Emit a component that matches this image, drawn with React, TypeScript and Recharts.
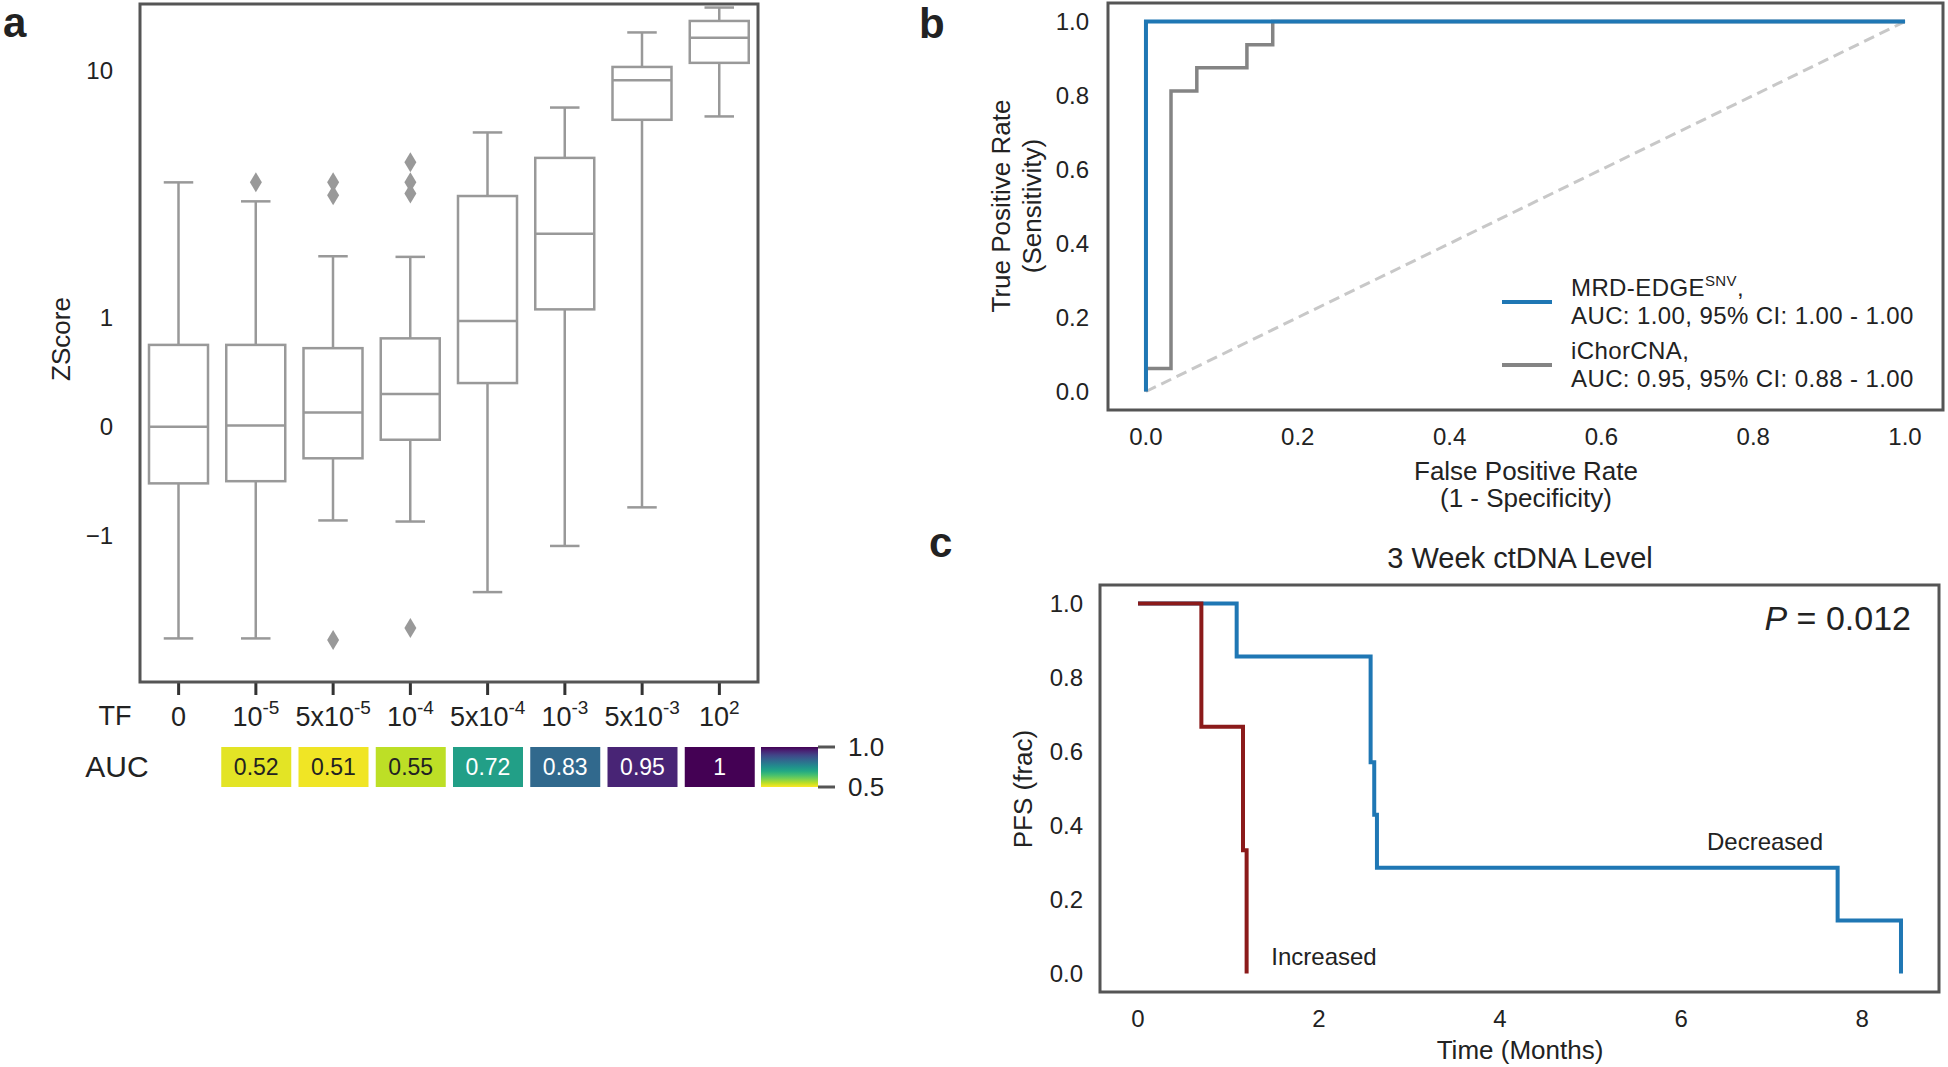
import React from 'react';
import {
  ComposedChart,
  BarChart,
  LineChart,
  Bar,
  Line,
  Scatter,
  XAxis,
  YAxis,
  Cell,
  LabelList,
  Legend,
} from 'recharts';

const FONT = '"Liberation Sans", Arial, Helvetica, sans-serif';
const INK = '#222222';
const FRAME = '#555555';
const BOX = '#999999';
const BLUE = '#1f77b4';
const GREY = '#848484';
const RED = '#8b1a1a';

// ---- panel a: z-score by tumour fraction ----
const tfCategories = ['0', '10^-5', '5x10^-5', '10^-4', '5x10^-4', '10^-3', '5x10^-3', '10^2'];
const whiskerLow = [-2.6, -2.6, -0.86, -0.87, -1.69, -1.1, -0.74, 6.5];
const quartile1 = [-0.52, -0.5, -0.29, -0.12, 0.4, 1.08, 6.3, 10.7];
const medians = [0, 0.01, 0.13, 0.3, 0.97, 2.18, 9.1, 13.5];
const quartile3 = [0.75, 0.75, 0.72, 0.81, 3.1, 4.42, 10.3, 15.8];
const whiskerHigh = [3.52, 2.95, 1.77, 1.76, 5.6, 7.06, 14.2, 17.9];
const outlierCategory = ['10^-5', '5x10^-5', '5x10^-5', '5x10^-5', '10^-4', '10^-4', '10^-4', '10^-4'];
const outlierValue = [3.52, 3.52, 3.12, -2.64, 4.24, 3.52, 3.17, -2.36];
const zTicks = [-1, 0, 1, 10];
const zTickLabels = ['\u22121', '0', '1', '10'];
const zRange = [-3.9, 18.5];

// AUC per tumour fraction (none for TF 0)
const aucValues: (number | null)[] = [null, 0.52, 0.51, 0.55, 0.72, 0.83, 0.95, 1];
const aucScale = [0.5, 1.0];

// ---- panel b: ROC ----
const rocNames = ['MRD-EDGE', 'iChorCNA'];
const rocSup = ['SNV', ''];
const rocAucText = ['AUC: 1.00, 95% CI: 1.00 - 1.00', 'AUC: 0.95, 95% CI: 0.88 - 1.00'];
const mrdFpr = [0, 0, 1];
const mrdTpr = [0, 1, 1];
const ichorFpr = [0, 0, 0.033, 0.033, 0.067, 0.067, 0.133, 0.133, 0.167, 0.167, 1];
const ichorTpr = [0, 0.0625, 0.0625, 0.8125, 0.8125, 0.875, 0.875, 0.9375, 0.9375, 1, 1];
const chanceFpr = [0, 1];
const chanceTpr = [0, 1];
const rateTicks = [0, 0.2, 0.4, 0.6, 0.8, 1.0];

// ---- panel c: Kaplan-Meier ----
const decreasedMonths = [0, 1.09, 2.57, 2.61, 2.64, 7.73, 8.43];
const decreasedPfs = [1, 0.857, 0.571, 0.429, 0.286, 0.143, 0];
const increasedMonths = [0, 0.7, 1.16, 1.2];
const increasedPfs = [1, 0.667, 0.333, 0];
const monthTicks = [0, 2, 4, 6, 8];

// symmetric log axis: linear within +-1, one decade = DECADE linear units
const DECADE = 2.27;
const symlog = (v: number) =>
  Math.abs(v) <= 1 ? v : Math.sign(v) * (1 + Math.log10(Math.abs(v)) * DECADE);

const boxRows = tfCategories.map((name, i) => ({
  name,
  span: [symlog(whiskerLow[i]), symlog(whiskerHigh[i])],
  lo: symlog(whiskerLow[i]),
  b1: symlog(quartile1[i]),
  md: symlog(medians[i]),
  b3: symlog(quartile3[i]),
  hi: symlog(whiskerHigh[i]),
}));
const outlierRows = outlierCategory.map((name, i) => ({ name, t: symlog(outlierValue[i]) }));
const zTicksT = zTicks.map(symlog);
const aucRows = tfCategories.map((name, i) => ({ name, auc: aucValues[i] }));
const colorbarRows = [{ name: 'auc', range: aucScale }];

const zip = (xs: number[], ys: number[]) => xs.map((x, i) => ({ x, y: ys[i] }));
const mrdData = zip(mrdFpr, mrdTpr);
const ichorData = zip(ichorFpr, ichorTpr);
const chanceData = zip(chanceFpr, chanceTpr);
const decreasedData = zip(decreasedMonths, decreasedPfs);
const increasedData = zip(increasedMonths, increasedPfs);

const viridisStops = [
  '#440154', '#482475', '#414487', '#355f8d', '#2a788e', '#21918c',
  '#22a884', '#44bf70', '#7ad151', '#bddf26', '#fde725',
];
function viridis(f: number) {
  const p = Math.max(0, Math.min(1, f)) * (viridisStops.length - 1);
  const i = Math.min(Math.floor(p), viridisStops.length - 2);
  const w = p - i;
  const a = viridisStops[i], b = viridisStops[i + 1];
  const ch = (s: string, k: number) => parseInt(s.slice(1 + 2 * k, 3 + 2 * k), 16);
  const c = [0, 1, 2].map((k) => Math.round(ch(a, k) * (1 - w) + ch(b, k) * w));
  return `rgb(${c[0]},${c[1]},${c[2]})`;
}
const aucColor = (v: number) => viridis(1 - (v - aucScale[0]) / (aucScale[1] - aucScale[0]));

function BoxShape(props: any) {
  const { x, y, width, height, payload } = props;
  const p = payload;
  const top = Math.min(y, y + height);
  const bot = Math.max(y, y + height);
  const py = (t: number) => top + ((bot - top) * (p.hi - t)) / (p.hi - p.lo);
  const cx = x + width / 2;
  const cap = width / 4;
  return (
    <g stroke={BOX} strokeWidth={2.5} fill="none">
      <line x1={cx} x2={cx} y1={py(p.hi)} y2={py(p.b3)} />
      <line x1={cx} x2={cx} y1={py(p.b1)} y2={py(p.lo)} />
      <line x1={cx - cap} x2={cx + cap} y1={py(p.hi)} y2={py(p.hi)} />
      <line x1={cx - cap} x2={cx + cap} y1={py(p.lo)} y2={py(p.lo)} />
      <rect x={x} y={py(p.b3)} width={width} height={py(p.b1) - py(p.b3)} fill="#fff" />
      <line x1={x} x2={x + width} y1={py(p.md)} y2={py(p.md)} />
    </g>
  );
}

const Diamond = ({ cx, cy }: any) => (
  <path d={`M${cx},${cy - 10}L${cx + 6},${cy}L${cx},${cy + 10}L${cx - 6},${cy}Z`} fill={BOX} />
);

function TfTick({ x, y, payload }: any) {
  const [base, sup] = String(payload.value).split('^');
  return (
    <text x={x} y={y} dy={31} textAnchor="middle" fontSize={27} fill={INK} fontFamily={FONT}>
      {base}
      {sup && (
        <tspan dy={-12} fontSize={19}>
          {sup}
        </tspan>
      )}
    </text>
  );
}

function AucLabel(props: any) {
  const { x, y, width, height, value } = props;
  if (value == null) return null;
  return (
    <text
      x={x + width / 2}
      y={y + height / 2}
      textAnchor="middle"
      dominantBaseline="central"
      fontSize={23}
      fontFamily={FONT}
      fill={value < 0.6 ? INK : '#ffffff'}
    >
      {String(value)}
    </text>
  );
}

function RocLegend({ payload }: any) {
  const items = rocNames
    .map((n, i) => ({ i, entry: (payload || []).find((p: any) => p.value === n) }))
    .filter((d) => d.entry);
  return (
    <div style={{ fontFamily: FONT, fontSize: 24, color: INK, lineHeight: '28px', letterSpacing: 0.4 }}>
      {items.map(({ i, entry }) => (
        <div key={i} style={{ display: 'flex', alignItems: 'center', height: 56, marginBottom: 7 }}>
          <svg width={50} height={8} style={{ marginRight: 19, flex: 'none' }}>
            <line x1={0} x2={50} y1={4} y2={4} stroke={entry.color} strokeWidth={4} />
          </svg>
          <div style={{ whiteSpace: 'nowrap' }}>
            <div style={{ height: 28 }}>
              {rocNames[i]}
              {rocSup[i] && (
                <span style={{ fontSize: 15, position: 'relative', top: -10 }}>{rocSup[i]}</span>
              )}
              ,
            </div>
            <div style={{ height: 28 }}>{rocAucText[i]}</div>
          </div>
        </div>
      ))}
    </div>
  );
}

const tickStyle = { fontSize: 24, fill: INK, fontFamily: FONT };

export default function App() {
  return (
    <div
      style={{
        position: 'absolute',
        left: 0,
        top: 0,
        width: 1948,
        height: 1067,
        background: '#fff',
        overflow: 'hidden',
        fontFamily: FONT,
      }}
    >
      {/* a: box plots */}
      <div style={{ position: 'absolute', left: 0, top: 0 }}>
        <ComposedChart width={800} height={740} data={boxRows} margin={{ top: 4, right: 42, bottom: 0, left: 0 }}>
          <XAxis
            dataKey="name"
            allowDuplicatedCategory={false}
            height={58}
            axisLine={false}
            tickLine={{ stroke: '#333', strokeWidth: 3 }}
            tickSize={13}
            tickMargin={0}
            interval={0}
            tick={TfTick}
          />
          <YAxis
            type="number"
            domain={[symlog(zRange[0]), symlog(zRange[1])]}
            allowDataOverflow
            ticks={zTicksT}
            tickFormatter={(t: number) => zTickLabels[zTicksT.indexOf(t)]}
            width={140}
            axisLine={false}
            tickLine={false}
            tickSize={0}
            tickMargin={27}
            tick={tickStyle}
          />
          <Bar dataKey="span" barSize={59} shape={BoxShape} isAnimationActive={false} />
          <Scatter data={outlierRows} dataKey="t" shape={Diamond} isAnimationActive={false} />
        </ComposedChart>
      </div>

      {/* a: AUC heat strip */}
      <div style={{ position: 'absolute', left: 0, top: 740 }}>
        <BarChart width={800} height={62} data={aucRows} margin={{ top: 7, right: 42, bottom: 15, left: 140 }}>
          <XAxis dataKey="name" hide />
          <YAxis domain={[0, 1]} hide />
          <Bar
            dataKey={(d: any) => (d.auc == null ? null : [0, 1])}
            barSize={70}
            isAnimationActive={false}
          >
            {aucRows.map((r, i) => (
              <Cell key={i} fill={r.auc == null ? 'none' : aucColor(r.auc)} />
            ))}
            <LabelList dataKey="auc" content={AucLabel} />
          </Bar>
        </BarChart>
      </div>

      {/* a: colour bar */}
      <div style={{ position: 'absolute', left: 761, top: 722 }}>
        <BarChart width={140} height={90} data={colorbarRows} barCategoryGap={0} margin={{ top: 25, right: 0, bottom: 25, left: 0 }}>
          <defs>
            <linearGradient id="viridisBar" x1="0" y1="0" x2="0" y2="1">
              {viridisStops.map((c, i) => (
                <stop key={i} offset={i / (viridisStops.length - 1)} stopColor={c} />
              ))}
            </linearGradient>
          </defs>
          <XAxis dataKey="name" hide />
          <YAxis
            orientation="right"
            type="number"
            domain={aucScale}
            ticks={aucScale}
            interval={0}
            tickFormatter={(v: number) => v.toFixed(1)}
            width={83}
            axisLine={false}
            tickLine={{ stroke: FRAME, strokeWidth: 3 }}
            tickSize={17}
            tickMargin={13}
            tick={{ fontSize: 26, fill: INK, fontFamily: FONT }}
          />
          <Bar dataKey="range" fill="url(#viridisBar)" isAnimationActive={false} />
        </BarChart>
      </div>

      {/* b: ROC */}
      <div style={{ position: 'absolute', left: 940, top: 0 }}>
        <LineChart width={1008} height={520} margin={{ top: 3, right: 5, bottom: 0, left: 0 }}>
          <XAxis
            type="number"
            dataKey="x"
            domain={[-0.05, 1.05]}
            allowDataOverflow
            ticks={rateTicks}
            tickFormatter={(v: number) => v.toFixed(1)}
            height={110}
            axisLine={false}
            tickLine={false}
            tickSize={0}
            tickMargin={18}
            tick={tickStyle}
          />
          <YAxis
            type="number"
            dataKey="y"
            domain={[-0.05, 1.05]}
            allowDataOverflow
            ticks={rateTicks}
            tickFormatter={(v: number) => v.toFixed(1)}
            width={168}
            axisLine={false}
            tickLine={false}
            tickSize={0}
            tickMargin={19}
            tick={tickStyle}
          />
          <Line data={chanceData} dataKey="y" stroke="#c8c8c8" strokeWidth={3} strokeDasharray="11 6" dot={false} legendType="none" isAnimationActive={false} />
          <Line data={ichorData} dataKey="y" name={rocNames[1]} stroke={GREY} strokeWidth={3.5} dot={false} isAnimationActive={false} />
          <Line data={mrdData} dataKey="y" name={rocNames[0]} stroke={BLUE} strokeWidth={4} dot={false} isAnimationActive={false} />
          <Legend
            layout="vertical"
            align="center"
            verticalAlign="middle"
            content={RocLegend}
            wrapperStyle={{ left: 562, top: 274, width: 440 }}
          />
        </LineChart>
      </div>

      {/* c: Kaplan-Meier */}
      <div style={{ position: 'absolute', left: 940, top: 520 }}>
        <LineChart width={1008} height={547} margin={{ top: 65, right: 9, bottom: 0, left: 0 }}>
          <XAxis
            type="number"
            dataKey="x"
            domain={[-0.42, 8.85]}
            allowDataOverflow
            ticks={monthTicks}
            height={75}
            axisLine={false}
            tickLine={false}
            tickSize={0}
            tickMargin={18}
            tick={tickStyle}
          />
          <YAxis
            type="number"
            dataKey="y"
            domain={[-0.05, 1.05]}
            allowDataOverflow
            ticks={rateTicks}
            tickFormatter={(v: number) => v.toFixed(1)}
            width={160}
            axisLine={false}
            tickLine={false}
            tickSize={0}
            tickMargin={17}
            tick={tickStyle}
          />
          <Line data={decreasedData} dataKey="y" type="stepAfter" stroke={BLUE} strokeWidth={4} dot={false} isAnimationActive={false} />
          <Line data={increasedData} dataKey="y" type="stepAfter" stroke={RED} strokeWidth={4} dot={false} isAnimationActive={false} />
        </LineChart>
      </div>

      {/* frames and titles */}
      <svg
        width={1948}
        height={1067}
        style={{ position: 'absolute', left: 0, top: 0, pointerEvents: 'none' }}
        fontFamily={FONT}
        fill={INK}
      >
        <g fill="none" stroke={FRAME} strokeWidth={3}>
          <rect x={140} y={4} width={618} height={678} />
          <rect x={1108} y={3} width={835} height={407} />
          <rect x={1100} y={585} width={839} height={407} />
        </g>
        <g fontWeight="bold" fontSize={42}>
          <text x={3} y={37}>a</text>
          <text x={919} y={38}>b</text>
          <text x={929} y={557}>c</text>
        </g>
        <g fontSize={26} textAnchor="middle" dominantBaseline="central">
          <text x={61} y={339} transform="rotate(-90 61 339)">ZScore</text>
          <text x={115} y={716} fontSize={27}>TF</text>
          <text x={117} y={766} fontSize={30}>AUC</text>
          <text x={1001} y={206} transform="rotate(-90 1001 206)">True Positive Rate</text>
          <text x={1032} y={206} transform="rotate(-90 1032 206)">(Sensitivity)</text>
          <text x={1526} y={471}>False Positive Rate</text>
          <text x={1526} y={498}>(1 - Specificity)</text>
          <text x={1520} y={558} fontSize={29}>3 Week ctDNA Level</text>
          <text x={1520} y={1050}>Time (Months)</text>
          <text x={1023} y={789} transform="rotate(-90 1023 789)">PFS (frac)</text>
          <text x={1765} y={841} fontSize={24}>Decreased</text>
          <text x={1324} y={956} fontSize={24}>Increased</text>
          <text x={1911} y={618} fontSize={34} textAnchor="end">
            <tspan fontStyle="italic">P</tspan> = 0.012
          </text>
        </g>
      </svg>
    </div>
  );
}
